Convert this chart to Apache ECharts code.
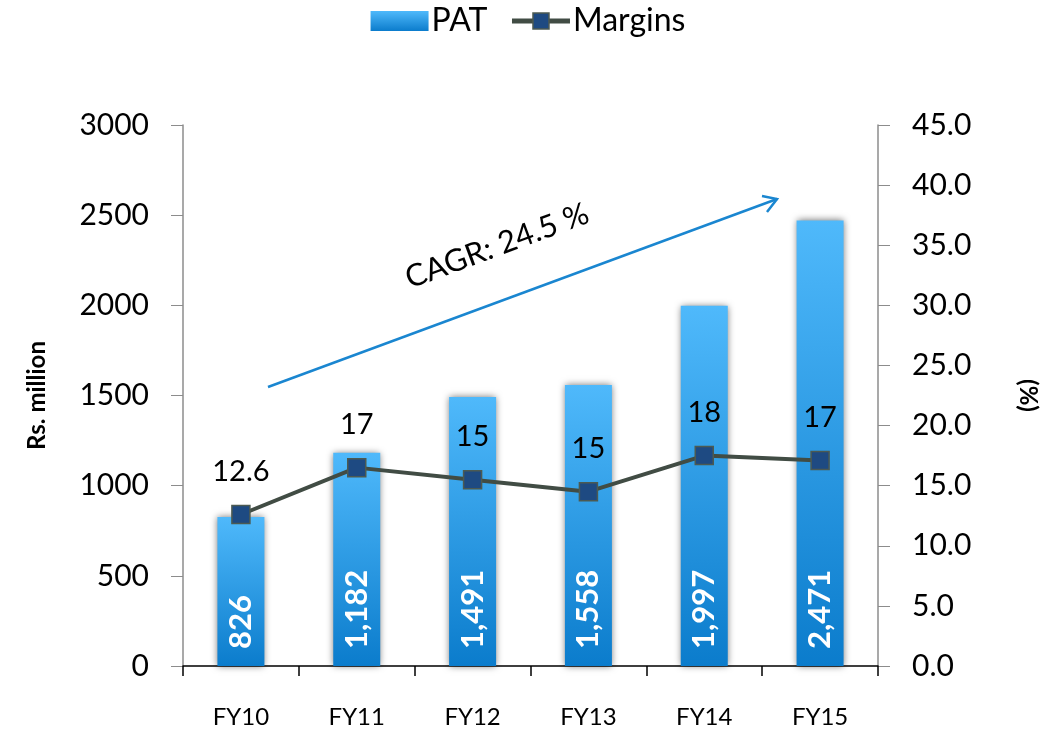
<!DOCTYPE html>
<html>
<head>
<meta charset="utf-8">
<script src="https://cdn.jsdelivr.net/npm/echarts@6/dist/echarts.min.js"></script>
<style>
  html, body { margin: 0; padding: 0; background: #fff; }
  #chart { width: 1056px; height: 734px; }
</style>
</head>
<body>
<div id="chart"></div>
<script>
const years = ['FY10', 'FY11', 'FY12', 'FY13', 'FY14', 'FY15']
const pat = [826, 1182, 1491, 1558, 1997, 2471]
const margins = [12.6, 16.5, 15.5, 14.5, 17.5, 17.1]
const marginLabels = ['12.6', '17', '15', '15', '18', '17']

const font = 'Lato, "Open Sans", sans-serif'

const chart = echarts.init(document.getElementById('chart'))

// bar fill, light at the top, deeper blue at the base
const barFill = new echarts.graphic.LinearGradient(0, 0, 0, 1, [
  { offset: 0, color: '#4fb9fb' },
  { offset: 1, color: '#0b7ccc' }
])

chart.setOption({
  animation: false,
  textStyle: { fontFamily: font, color: '#000' },
  legend: {
    top: 0,
    left: 'center',
    itemGap: 22,
    itemWidth: 58,
    itemHeight: 20,
    textStyle: { fontSize: 32, fontFamily: font, color: '#000', padding: [0, 0, 0, -2] },
    data: [
      { name: 'PAT', icon: 'rect' },
      { name: 'Margins', itemStyle: { color: '#1e4a82', borderColor: '#4c5a52', borderWidth: 1.5 }, lineStyle: { width: 5, color: '#414c44' } }
    ]
  },
  grid: { left: 183, right: 178, top: 125, bottom: 68 },
  xAxis: {
    type: 'category',
    data: years,
    axisLine: { lineStyle: { color: '#000', width: 1.5 } },
    axisTick: { show: true, length: 10, lineStyle: { color: '#000', width: 1.5 } },
    axisLabel: { fontSize: 24, margin: 39, color: '#000' }
  },
  yAxis: [
    {
      type: 'value',
      min: 0,
      max: 3000,
      interval: 500,
      name: 'Rs. million',
      nameLocation: 'middle',
      nameGap: 134,
      nameRotate: 90,
      nameTextStyle: { fontSize: 24, fontWeight: 'bold', color: '#000' },
      axisLine: { show: true, lineStyle: { color: '#8c8c8c', width: 1.5 } },
      axisTick: { show: true, length: 12, lineStyle: { color: '#8c8c8c' } },
      axisLabel: { fontSize: 30, margin: 34, color: '#000', formatter: v => String(v) },
      splitLine: { show: false }
    },
    {
      type: 'value',
      min: 0,
      max: 45,
      interval: 5,
      name: '(%)',
      nameLocation: 'middle',
      nameGap: 138,
      nameRotate: -90,
      nameTextStyle: { fontSize: 24, fontWeight: 'bold', color: '#000' },
      axisLine: { show: true, lineStyle: { color: '#8c8c8c', width: 1.5 } },
      axisTick: { show: true, length: 12, lineStyle: { color: '#8c8c8c' } },
      axisLabel: { fontSize: 30, margin: 34, color: '#000', formatter: v => v.toFixed(1) },
      splitLine: { show: false }
    }
  ],
  series: [
    {
      name: 'PAT',
      type: 'bar',
      data: pat,
      barWidth: 47,
      itemStyle: {
        color: barFill,
        shadowBlur: 7,
        shadowColor: 'rgba(0,0,0,0.55)'
      },
      label: {
        show: true,
        position: 'insideBottom',
        rotate: 90,
        align: 'left',
        verticalAlign: 'middle',
        distance: 17,
        fontSize: 31,
        fontWeight: 'bold',
        color: '#fff',
        formatter: p => p.value.toLocaleString('en-US')
      }
    },
    {
      name: 'Margins',
      type: 'line',
      yAxisIndex: 1,
      data: margins,
      symbol: 'rect',
      symbolSize: 18,
      z: 5,
      lineStyle: { color: '#414c44', width: 4 },
      itemStyle: { color: '#1e4a82', borderColor: '#4c5a52', borderWidth: 1.5 },
      label: {
        show: true,
        position: 'top',
        distance: 19,
        fontSize: 29,
        color: '#000',
        formatter: p => marginLabels[p.dataIndex]
      }
    }
  ],
  graphic: [
    {
      type: 'line',
      shape: { x1: 268, y1: 387, x2: 777, y2: 199 },
      style: { stroke: '#1a86d0', lineWidth: 2.5 }
    },
    {
      type: 'polyline',
      shape: { points: [[762, 196], [777, 199], [767, 212]] },
      style: { stroke: '#1a86d0', lineWidth: 2.5, fill: null }
    },
    {
      type: 'text',
      x: 497,
      y: 246,
      rotation: 20.3 * Math.PI / 180,
      style: {
        text: 'CAGR: 24.5 %',
        fontSize: 31,
        fontFamily: font,
        fill: '#000',
        align: 'center',
        verticalAlign: 'middle'
      }
    }
  ]
})
</script>
</body>
</html>
